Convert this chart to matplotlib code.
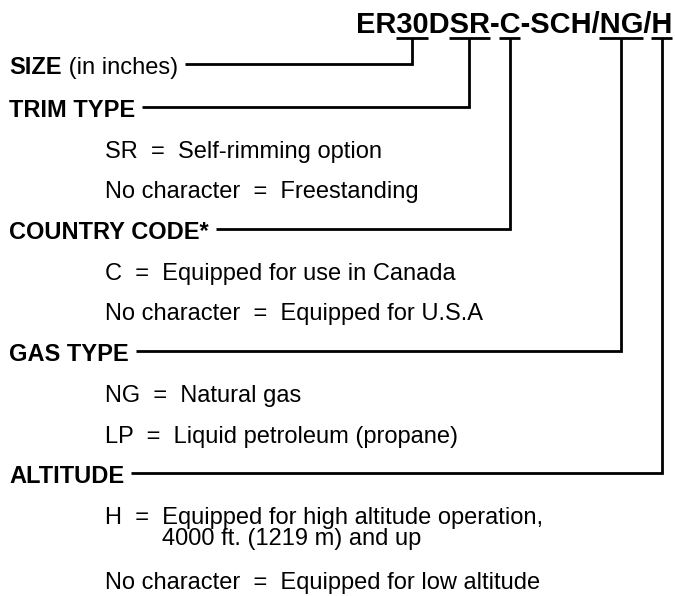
import matplotlib
matplotlib.use("Agg")
import matplotlib.pyplot as plt

# ---- content ----
model_code = "ER30DSR-C-SCH/NG/H"
field_names = ["SIZE", "TRIM TYPE", "COUNTRY CODE*", "GAS TYPE", "ALTITUDE"]
field_notes = [" (in inches)", "", "", "", ""]
code_segments = ["30", "SR", "C", "NG", "H"]
segment_starts = [2, 5, 8, 14, 17]
field_options = [
    [],
    [("SR", ["Self-rimming option"]), ("No character", ["Freestanding"])],
    [("C", ["Equipped for use in Canada"]), ("No character", ["Equipped for U.S.A"])],
    [("NG", ["Natural gas"]), ("LP", ["Liquid petroleum (propane)"])],
    [("H", ["Equipped for high altitude operation,", "4000 ft. (1219 m) and up"]),
     ("No character", ["Equipped for low altitude"])],
]

# ---- style / layout ----
FONT = "Liberation Sans"
W, H = 675, 596
fig = plt.figure(figsize=(W / 100, H / 100), dpi=100)
ax = fig.add_axes([0, 0, 1, 1])
ax.set_xlim(0, W)
ax.set_ylim(H, 0)
ax.axis("off")
fig.canvas.draw()
renderer = fig.canvas.get_renderer()


def width_of(s, **kw):
    t = ax.text(0, 0, s, fontfamily=FONT, **kw)
    bb = t.get_window_extent(renderer)
    t.remove()
    return bb.width  # 1 data unit == 1 pixel


TITLE_SIZE = 20.9
LABEL_SIZE = 17
LW = 2.0
title_right = 672
title_base = 33
ul_y = 37.5

# title
tw = width_of(model_code, fontsize=TITLE_SIZE, fontweight="bold")
ax.text(title_right, title_base, model_code, fontfamily=FONT, fontsize=TITLE_SIZE,
        fontweight="bold", ha="right", va="baseline")
title_left = title_right - tw

# underline positions
seg_x = []
for seg, st in zip(code_segments, segment_starts):
    x0 = title_left + width_of(model_code[:st], fontsize=TITLE_SIZE, fontweight="bold")
    x1 = title_left + width_of(model_code[:st + len(seg)], fontsize=TITLE_SIZE, fontweight="bold")
    ax.plot([x0, x1], [ul_y, ul_y], color="black", lw=LW, solid_capstyle="butt")
    seg_x.append((x0 + x1) / 2)

label_x = 9
opt_x = 105
y = 74
pitch = 40.7
for i, name in enumerate(field_names):
    ax.text(label_x, y, name, fontfamily=FONT, fontsize=LABEL_SIZE, fontweight="bold",
            va="baseline")
    end = label_x + width_of(name, fontsize=LABEL_SIZE, fontweight="bold")
    if field_notes[i]:
        ax.text(end, y, field_notes[i], fontfamily=FONT, fontsize=LABEL_SIZE, va="baseline")
        end += width_of(field_notes[i], fontsize=LABEL_SIZE)
    ly = y - 10
    xv = seg_x[i]
    ax.plot([end + 7, xv, xv], [ly, ly, ul_y], color="black", lw=LW,
            solid_joinstyle="miter", solid_capstyle="butt")
    y += 43 if i == 0 else pitch
    for key, lines in field_options[i]:
        prefix = f"{key}  =  "
        ax.text(opt_x, y, prefix + lines[0], fontfamily=FONT, fontsize=LABEL_SIZE,
                va="baseline")
        indent = opt_x + width_of(prefix, fontsize=LABEL_SIZE)
        for extra in lines[1:]:
            y += 21.5
            ax.text(indent, y, extra, fontfamily=FONT, fontsize=LABEL_SIZE, va="baseline")
            y += 2.5
        y += pitch

fig.savefig("out.png", dpi=100, facecolor="white")
